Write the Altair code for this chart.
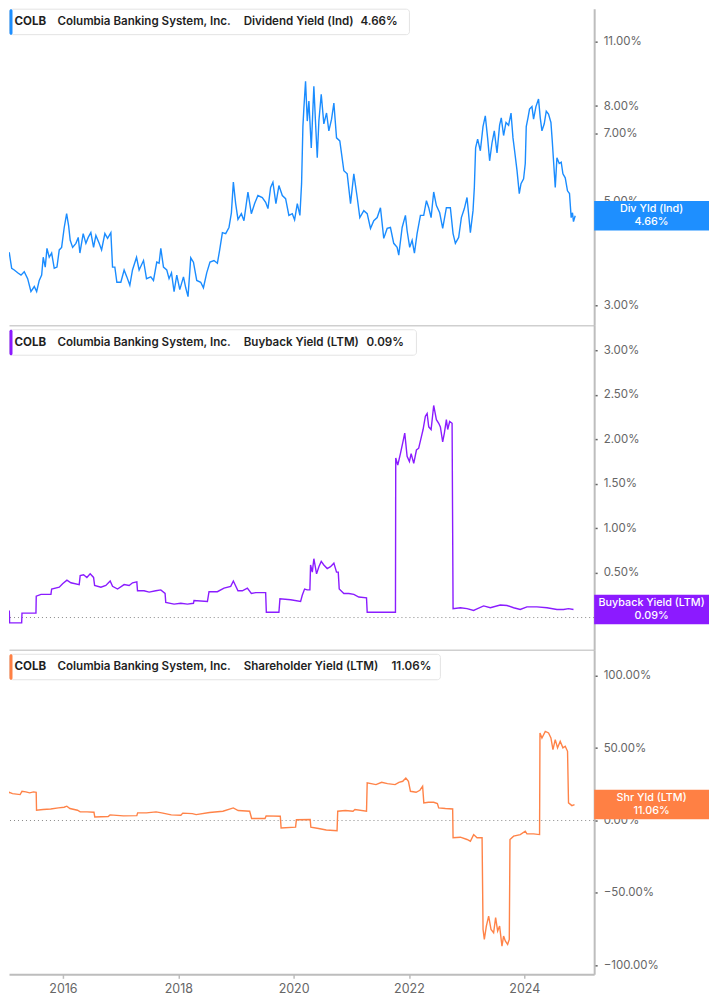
import altair as alt
import pandas as pd

TICKER = "COLB"
COMPANY = "Columbia Banking System, Inc."
METRIC_NAMES = ["Dividend Yield (Ind)", "Buyback Yield (LTM)", "Shareholder Yield (LTM)"]
SHORT_NAMES = ["Div Yld (Ind)", "Buyback Yield (LTM)", "Shr Yld (LTM)"]
LAST_VALUES = [4.66, 0.09, 11.06]
LINE_COLORS = ["#1a8cff", "#8a1cff", "#ff8348"]
BOX_COLORS = ["#1e8fff", "#8c1aff", "#ff8044"]
X_TICK_YEARS = [2016, 2018, 2020, 2022, 2024]
Y_TICKS = [[3, 5, 7, 8, 11], [0, 0.5, 1, 1.5, 2, 2.5, 3], [-100, -50, 0, 50, 100]]

# (decimal year, dividend yield %)
DIV_YIELD = [
    (2014.926, 3.52), (2014.973, 3.60), (2014.995, 3.45), (2015.042, 3.90), (2015.070, 3.88),
    (2015.111, 3.60), (2015.156, 3.57), (2015.215, 3.52), (2015.272, 3.48), (2015.329, 3.54),
    (2015.388, 3.42), (2015.445, 3.21), (2015.503, 3.29), (2015.544, 3.21), (2015.589, 3.39),
    (2015.631, 3.48), (2015.658, 3.80), (2015.693, 3.62), (2015.723, 3.97), (2015.762, 3.80),
    (2015.804, 3.88), (2015.849, 3.60), (2015.896, 3.62), (2015.936, 3.94), (2015.977, 3.99),
    (2016.022, 4.40), (2016.064, 4.71), (2016.098, 4.44), (2016.126, 4.13), (2016.168, 3.99),
    (2016.225, 4.07), (2016.265, 4.19), (2016.294, 3.88), (2016.351, 4.27), (2016.398, 4.07),
    (2016.438, 4.19), (2016.484, 4.29), (2016.531, 3.99), (2016.571, 4.23), (2016.628, 4.07),
    (2016.670, 3.94), (2016.727, 4.27), (2016.774, 4.17), (2016.831, 4.29), (2016.860, 3.62),
    (2016.900, 3.62), (2016.935, 3.36), (2017.004, 3.36), (2017.061, 3.57), (2017.108, 3.45),
    (2017.160, 3.31), (2017.206, 3.57), (2017.276, 3.80), (2017.321, 3.57), (2017.397, 3.74),
    (2017.449, 3.42), (2017.523, 3.45), (2017.570, 3.39), (2017.627, 3.71), (2017.667, 3.69),
    (2017.697, 3.97), (2017.743, 3.62), (2017.800, 3.57), (2017.840, 3.42), (2017.882, 3.52),
    (2017.927, 3.21), (2017.974, 3.48), (2018.026, 3.24), (2018.090, 3.45), (2018.129, 3.27),
    (2018.169, 3.13), (2018.216, 3.79), (2018.263, 3.71), (2018.320, 3.39), (2018.389, 3.36),
    (2018.436, 3.27), (2018.493, 3.52), (2018.550, 3.71), (2018.619, 3.74), (2018.678, 3.69),
    (2018.718, 3.94), (2018.765, 4.29), (2018.822, 4.27), (2018.879, 4.40), (2018.921, 4.73),
    (2018.955, 5.50), (2018.995, 4.95), (2019.035, 4.58), (2019.094, 4.71), (2019.139, 4.55),
    (2019.208, 5.24), (2019.267, 4.71), (2019.324, 4.95), (2019.381, 5.15), (2019.457, 5.10),
    (2019.515, 4.98), (2019.555, 4.83), (2019.601, 5.36), (2019.641, 5.50), (2019.693, 4.95),
    (2019.745, 5.41), (2019.804, 5.15), (2019.861, 5.07), (2019.918, 4.67), (2019.977, 4.71),
    (2020.017, 4.57), (2020.064, 4.95), (2020.109, 4.67), (2020.138, 5.46), (2020.161, 7.23),
    (2020.178, 7.92), (2020.207, 9.04), (2020.237, 7.43), (2020.265, 8.20), (2020.306, 6.51),
    (2020.351, 8.82), (2020.381, 7.33), (2020.410, 6.20), (2020.438, 7.43), (2020.479, 8.48),
    (2020.524, 7.33), (2020.571, 7.73), (2020.611, 7.08), (2020.658, 7.50), (2020.698, 8.12),
    (2020.744, 6.84), (2020.801, 6.74), (2020.871, 5.82), (2020.929, 5.73), (2020.987, 4.95),
    (2021.044, 5.73), (2021.103, 5.10), (2021.148, 4.62), (2021.217, 4.78), (2021.276, 4.71),
    (2021.333, 4.38), (2021.390, 4.55), (2021.449, 4.62), (2021.506, 4.85), (2021.563, 4.17),
    (2021.622, 4.38), (2021.679, 4.40), (2021.736, 4.07), (2021.795, 3.99), (2021.823, 3.84),
    (2021.882, 4.40), (2021.939, 4.67), (2021.968, 4.33), (2022.013, 3.99), (2022.055, 4.13),
    (2022.095, 3.88), (2022.141, 4.27), (2022.199, 4.67), (2022.256, 4.67), (2022.303, 5.02),
    (2022.343, 4.85), (2022.384, 4.62), (2022.429, 5.24), (2022.476, 4.90), (2022.533, 4.73),
    (2022.585, 4.38), (2022.649, 4.85), (2022.718, 4.85), (2022.765, 4.27), (2022.805, 4.07),
    (2022.862, 4.19), (2022.909, 4.62), (2022.961, 4.83), (2023.007, 5.10), (2023.065, 4.29),
    (2023.111, 4.78), (2023.134, 5.36), (2023.156, 6.51), (2023.191, 6.80), (2023.238, 6.42),
    (2023.284, 7.23), (2023.324, 7.62), (2023.364, 6.84), (2023.399, 6.11), (2023.440, 6.67),
    (2023.480, 7.08), (2023.527, 6.35), (2023.572, 7.28), (2023.601, 7.55), (2023.641, 6.92),
    (2023.683, 7.38), (2023.728, 7.28), (2023.770, 7.73), (2023.804, 6.84), (2023.832, 6.42),
    (2023.874, 5.82), (2023.913, 5.20), (2023.943, 5.46), (2023.988, 5.59), (2024.017, 6.03),
    (2024.034, 7.23), (2024.064, 7.55), (2024.091, 7.88), (2024.133, 7.98), (2024.161, 7.50),
    (2024.202, 7.98), (2024.247, 8.28), (2024.277, 7.55), (2024.306, 7.08), (2024.346, 7.33),
    (2024.381, 7.80), (2024.420, 7.69), (2024.462, 7.38), (2024.485, 6.74), (2024.507, 6.11),
    (2024.537, 5.36), (2024.566, 6.20), (2024.606, 6.03), (2024.640, 6.07), (2024.670, 5.73),
    (2024.710, 5.62), (2024.749, 5.27), (2024.784, 5.20), (2024.813, 4.62), (2024.836, 4.73),
    (2024.853, 4.53), (2024.883, 4.66),
]

# (decimal year, buyback yield %)
BUYBACK_YIELD = [
    (2014.926, 0.07), (2015.070, 0.07), (2015.075, -0.06), (2015.284, -0.06), (2015.290, 0.05),
    (2015.532, 0.05), (2015.537, 0.24), (2015.619, 0.26), (2015.792, 0.26), (2015.804, 0.32),
    (2015.936, 0.34), (2015.994, 0.38), (2016.069, 0.42), (2016.138, 0.39), (2016.282, 0.37),
    (2016.299, 0.47), (2016.358, 0.48), (2016.415, 0.45), (2016.472, 0.49), (2016.531, 0.45),
    (2016.549, 0.36), (2016.658, 0.34), (2016.744, 0.36), (2016.819, 0.41), (2016.860, 0.35),
    (2016.947, 0.32), (2017.061, 0.37), (2017.148, 0.36), (2017.207, 0.39), (2017.281, 0.40),
    (2017.293, 0.30), (2017.407, 0.30), (2017.494, 0.285), (2017.610, 0.30), (2017.697, 0.31),
    (2017.771, 0.27), (2017.783, 0.17), (2017.927, 0.15), (2018.043, 0.16), (2018.159, 0.15),
    (2018.263, 0.16), (2018.273, 0.19), (2018.505, 0.18), (2018.533, 0.29), (2018.678, 0.29),
    (2018.793, 0.33), (2018.909, 0.35), (2018.955, 0.41), (2019.035, 0.30), (2019.111, 0.30),
    (2019.198, 0.33), (2019.267, 0.27), (2019.342, 0.28), (2019.515, 0.28), (2019.527, 0.06),
    (2019.745, 0.06), (2019.763, 0.21), (2019.948, 0.20), (2020.121, 0.18), (2020.150, 0.25),
    (2020.190, 0.32), (2020.237, 0.31), (2020.282, 0.31), (2020.294, 0.59), (2020.324, 0.51),
    (2020.351, 0.66), (2020.398, 0.49), (2020.438, 0.57), (2020.479, 0.63), (2020.524, 0.59),
    (2020.583, 0.55), (2020.640, 0.57), (2020.698, 0.61), (2020.744, 0.51), (2020.774, 0.51),
    (2020.791, 0.32), (2020.871, 0.27), (2020.957, 0.27), (2021.044, 0.26), (2021.130, 0.23),
    (2021.264, 0.22), (2021.276, 0.06), (2021.766, 0.06), (2021.771, 1.79), (2021.806, 1.71),
    (2021.852, 1.84), (2021.892, 1.96), (2021.927, 2.07), (2021.968, 1.81), (2022.008, 1.75),
    (2022.038, 1.84), (2022.083, 1.73), (2022.130, 1.88), (2022.169, 1.90), (2022.216, 2.03),
    (2022.245, 2.11), (2022.285, 2.26), (2022.315, 2.29), (2022.343, 2.14), (2022.384, 2.11),
    (2022.429, 2.38), (2022.476, 2.22), (2022.516, 2.18), (2022.545, 2.14), (2022.585, 1.97),
    (2022.614, 2.07), (2022.649, 2.22), (2022.672, 2.11), (2022.706, 2.20), (2022.748, 2.18),
    (2022.765, 0.10), (2022.892, 0.11), (2023.007, 0.10), (2023.122, 0.08), (2023.151, 0.09),
    (2023.295, 0.13), (2023.411, 0.11), (2023.584, 0.14), (2023.700, 0.135), (2023.815, 0.11),
    (2023.930, 0.09), (2024.046, 0.12), (2024.220, 0.12), (2024.393, 0.11), (2024.566, 0.09),
    (2024.680, 0.09), (2024.767, 0.10), (2024.853, 0.09),
]

# (decimal year, shareholder yield %)
SHAREHOLDER_YIELD = [
    (2014.926, 15.6), (2014.992, 16.3), (2015.071, 19.5), (2015.125, 18.6), (2015.258, 17.9),
    (2015.290, 20.2), (2015.357, 19.8), (2015.423, 19.1), (2015.491, 19.8), (2015.536, 19.5),
    (2015.542, 7.1), (2015.655, 7.6), (2015.788, 8.0), (2015.922, 8.7), (2016.020, 9.2),
    (2016.067, 9.9), (2016.121, 8.3), (2016.252, 7.1), (2016.299, 6.0), (2016.419, 6.0),
    (2016.538, 5.7), (2016.552, 2.5), (2016.784, 2.8), (2016.817, 3.9), (2017.049, 3.2),
    (2017.281, 3.4), (2017.295, 5.3), (2017.447, 5.3), (2017.614, 6.0), (2017.712, 5.3),
    (2017.878, 3.9), (2018.045, 3.7), (2018.078, 5.1), (2018.244, 4.8), (2018.310, 4.1),
    (2018.542, 5.5), (2018.774, 6.4), (2018.954, 8.7), (2019.039, 6.9), (2019.238, 6.4),
    (2019.272, 1.4), (2019.504, 1.4), (2019.523, 3.2), (2019.769, 3.0), (2019.783, -5.1),
    (2020.034, -4.6), (2020.048, 0.5), (2020.287, 0.7), (2020.299, -4.6), (2020.433, -5.5),
    (2020.566, -6.5), (2020.753, -7.0), (2020.765, 6.4), (2020.897, 6.9), (2021.030, 6.4),
    (2021.063, 7.6), (2021.264, 6.4), (2021.276, 26.0), (2021.428, 24.8), (2021.527, 26.4),
    (2021.627, 25.5), (2021.759, 24.8), (2021.826, 26.4), (2021.892, 27.1), (2021.946, 29.4),
    (2021.991, 27.1), (2022.026, 20.2), (2022.124, 19.5), (2022.190, 20.9), (2022.237, 23.7),
    (2022.258, 12.2), (2022.337, 12.6), (2022.429, 12.6), (2022.493, 11.7), (2022.516, 8.7),
    (2022.632, 8.3), (2022.758, 8.0), (2022.765, -11.9), (2022.892, -11.5), (2023.007, -13.1),
    (2023.065, -14.3), (2023.122, -9.7), (2023.181, -11.9), (2023.268, -11.9), (2023.285, -75.2),
    (2023.307, -82.1), (2023.342, -72.9), (2023.382, -66.0), (2023.423, -75.2), (2023.468, -77.5),
    (2023.503, -67.1), (2023.538, -76.3), (2023.572, -72.9), (2023.613, -86.7), (2023.641, -79.8),
    (2023.671, -83.2), (2023.711, -85.5), (2023.740, -82.1), (2023.752, -13.1), (2023.815, -10.8),
    (2023.930, -9.7), (2024.017, -7.4), (2024.046, -9.2), (2024.161, -9.2), (2024.265, -9.7),
    (2024.272, 60.5), (2024.306, 57.0), (2024.364, 61.6), (2024.421, 60.5), (2024.462, 57.0),
    (2024.497, 49.0), (2024.537, 55.9), (2024.577, 50.2), (2024.623, 54.7), (2024.670, 50.2),
    (2024.710, 51.3), (2024.750, 47.8), (2024.767, 12.2), (2024.826, 10.3), (2024.871, 11.0),
]

SERIES = [DIV_YIELD, BUYBACK_YIELD, SHAREHOLDER_YIELD]

# ---- layout / scale settings ----
FONT = "Inter"
PLOT_W = 586
HEIGHTS = [317, 325, 325]
X_DOMAIN = [2015.0645, 2025.2117]
Y_DOMAINS = [[2.719, 12.92], [-0.362, 3.28], [-106.2, 117.9]]
Y_TYPES = ["log", "linear", "linear"]
HDR_TOP = [0, 4, 4]
HDR_RIGHT = [401, 408, 432]
HDR_VALUE_X = [352, 358, 383]
AXIS_GRAY = "#bdbdbd"
SEP_GRAY = "#cfcfcf"
# right-hand value tag: a 115 x 29.5 px rectangle drawn as a symbol path
TAG_W = 115
TAG_PATH = "M-1,-0.2565L1,-0.2565L1,0.2565L-1,0.2565Z"
TAG_CX = PLOT_W + TAG_W / 2


def make_panel(i, bottom):
    df = pd.DataFrame(SERIES[i], columns=["year", "value"])
    last_df = pd.DataFrame({"value": [LAST_VALUES[i]]})
    zero_df = pd.DataFrame({"value": [0.0]})
    one = pd.DataFrame({"k": [0]})

    x_scale = alt.Scale(domain=X_DOMAIN, nice=False, zero=False)
    y_scale = alt.Scale(type=Y_TYPES[i], domain=Y_DOMAINS[i], nice=False, zero=False)
    if bottom:
        x_axis = alt.Axis(values=X_TICK_YEARS, format="d", title=None, grid=False,
                          domainColor=AXIS_GRAY, domainWidth=2, tickColor=AXIS_GRAY,
                          tickSize=4, tickWidth=1.5, labelColor="#666666", labelFont=FONT,
                          labelFontSize=12.5, labelPadding=4, labelFlush=False)
    else:
        x_axis = alt.Axis(labels=False, ticks=False, title=None, grid=False,
                          domainColor=SEP_GRAY, domainWidth=1.5)
    y_axis = alt.Axis(orient="right", values=Y_TICKS[i],
                      labelExpr="format(datum.value, '.2f') + '%'", title=None, grid=False,
                      domainColor=AXIS_GRAY, domainWidth=2, tickColor="#666666", tickSize=3,
                      tickWidth=1.5, labelColor="#666666", labelFont=FONT, labelFontSize=11.5,
                      labelPadding=6, labelOverlap=False, labelFlush=False)

    X = alt.X("year:Q", scale=x_scale, axis=x_axis)
    Y = alt.Y("value:Q", scale=y_scale, axis=y_axis)

    layers = []
    if i > 0:
        layers.append(
            alt.Chart(zero_df).mark_rule(color="#888888", strokeDash=[1, 3], strokeWidth=1)
            .encode(y=Y)
        )
    layers.append(
        alt.Chart(df).mark_line(color=LINE_COLORS[i], strokeWidth=1.4, clip=True)
        .encode(x=X, y=Y)
    )

    # header box
    y0 = HDR_TOP[i]
    layers.append(
        alt.Chart(one).mark_rect(fill="white", stroke="#e3e3e3", strokeWidth=1, cornerRadius=3)
        .encode(x=alt.value(0.5), x2=alt.value(HDR_RIGHT[i]), y=alt.value(y0 + 0.5),
                y2=alt.value(y0 + 26))
    )
    layers.append(
        alt.Chart(one).mark_rect(fill=BOX_COLORS[i], cornerRadius=1.5)
        .encode(x=alt.value(0.5), x2=alt.value(3.5), y=alt.value(y0 + 0.5),
                y2=alt.value(y0 + 26))
    )
    segs = [(TICKER, 5.5, 700), (COMPANY, 48.5, 600), (METRIC_NAMES[i], 235, 600),
            (f"{LAST_VALUES[i]:.2f}%", HDR_VALUE_X[i], 600)]
    for txt, xp, fw in segs:
        layers.append(
            alt.Chart(one).mark_text(align="left", baseline="middle", font=FONT, fontSize=11.6,
                                     fontWeight=fw, color="#1f1f1f")
            .encode(x=alt.value(xp), y=alt.value(y0 + 13.5), text=alt.value(txt))
        )

    # right-side value tag
    layers.append(
        alt.Chart(last_df).mark_point(shape=TAG_PATH, size=TAG_W * TAG_W, filled=True,
                                      opacity=1, color=BOX_COLORS[i], strokeWidth=0)
        .encode(x=alt.value(TAG_CX), y=Y)
    )
    layers.append(
        alt.Chart(last_df).mark_text(align="center", baseline="middle", font=FONT,
                                     fontSize=10.8, fontWeight=500, color="white", dy=-6.5)
        .encode(x=alt.value(TAG_CX), y=Y, text=alt.value(SHORT_NAMES[i]))
    )
    layers.append(
        alt.Chart(last_df).mark_text(align="center", baseline="middle", font=FONT,
                                     fontSize=10.8, fontWeight=500, color="white", dy=6.5)
        .encode(x=alt.value(TAG_CX), y=Y, text=alt.value(f"{LAST_VALUES[i]:.2f}%"))
    )
    return alt.layer(*layers).properties(width=PLOT_W, height=HEIGHTS[i])


chart = alt.vconcat(
    make_panel(0, False), make_panel(1, False), make_panel(2, True),
    spacing=0, bounds="flush",
).properties(padding=0).configure_view(stroke=None)

chart.save("out.html", embed_options={"renderer": "svg", "actions": False})
